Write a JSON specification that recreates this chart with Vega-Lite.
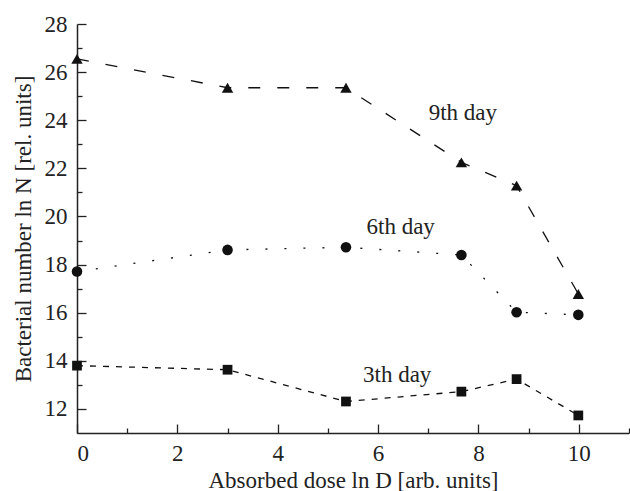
{
  "$schema": "https://vega.github.io/schema/vega-lite/v6.json",
  "width": 552,
  "height": 409,
  "autosize": {"type": "none"},
  "padding": {"left": 77, "top": 24, "right": 1, "bottom": 58},
  "background": "white",
  "config": {
    "view": {"stroke": null},
    "font": "'Liberation Serif', 'Times New Roman', serif",
    "axis": {
      "grid": false,
      "domainColor": "#222",
      "domainWidth": 1.5,
      "tickColor": "#222",
      "tickWidth": 1.3,
      "labelColor": "#222",
      "titleColor": "#222",
      "labelFont": "'Liberation Serif', 'Times New Roman', serif",
      "titleFont": "'Liberation Serif', 'Times New Roman', serif",
      "labelFontSize": 23,
      "titleFontSize": 23,
      "titleFontWeight": "normal"
    }
  },
  "datasets": {
    "pts": [
      {"day": "9th day", "dose": 0, "n": 26.55},
      {"day": "9th day", "dose": 3.0, "n": 25.35},
      {"day": "9th day", "dose": 5.36, "n": 25.35},
      {"day": "9th day", "dose": 7.66, "n": 22.25},
      {"day": "9th day", "dose": 8.76, "n": 21.28},
      {"day": "9th day", "dose": 9.99, "n": 16.78},
      {"day": "6th day", "dose": 0, "n": 17.71},
      {"day": "6th day", "dose": 3.0, "n": 18.61},
      {"day": "6th day", "dose": 5.36, "n": 18.72},
      {"day": "6th day", "dose": 7.66, "n": 18.4},
      {"day": "6th day", "dose": 8.76, "n": 16.02},
      {"day": "6th day", "dose": 9.99, "n": 15.91},
      {"day": "3th day", "dose": 0, "n": 13.8},
      {"day": "3th day", "dose": 3.0, "n": 13.63},
      {"day": "3th day", "dose": 5.36, "n": 12.31},
      {"day": "3th day", "dose": 7.66, "n": 12.72},
      {"day": "3th day", "dose": 8.76, "n": 13.24},
      {"day": "3th day", "dose": 9.99, "n": 11.73}
    ],
    "labels": [
      {"text": "9th day", "dose": 7.69, "n": 24.29},
      {"text": "6th day", "dose": 6.45, "n": 19.58},
      {"text": "3th day", "dose": 6.38, "n": 13.39}
    ]
  },
  "layer": [
    {
      "data": {"name": "pts"},
      "mark": {"type": "line", "color": "#111", "strokeWidth": 1.3},
      "encoding": {
        "x": {"field": "dose", "type": "quantitative",
              "scale": {"domain": [0, 11], "nice": false, "zero": false},
              "axis": {"values": [0, 2, 4, 6, 8, 10], "tickSize": -9, "labelPadding": 18,
                       "title": "Absorbed dose ln D [arb. units]", "titlePadding": 4, "orient": "bottom"}},
        "y": {"field": "n", "type": "quantitative",
              "scale": {"domain": [11, 28], "nice": false, "zero": false},
              "axis": {"values": [12, 14, 16, 18, 20, 22, 24, 26, 28], "tickSize": -9, "labelPadding": 19,
                       "title": "Bacterial number ln N [rel. units]", "titlePadding": 9, "orient": "left"}},
        "strokeDash": {"field": "day", "type": "nominal",
                       "scale": {"domain": ["9th day", "6th day", "3th day"], "range": [[12, 17], [2, 17], [6, 7]]},
                       "legend": null},
        "detail": {"field": "day"}
      }
    },
    {
      "data": {"name": "pts"},
      "mark": {"type": "point", "filled": true, "color": "#111", "opacity": 1},
      "encoding": {
        "x": {"field": "dose", "type": "quantitative", "scale": {"domain": [0, 11], "nice": false, "zero": false}, "axis": null},
        "y": {"field": "n", "type": "quantitative", "scale": {"domain": [11, 28], "nice": false, "zero": false}, "axis": null},
        "shape": {"field": "day", "type": "nominal",
                  "scale": {"domain": ["9th day", "6th day", "3th day"], "range": ["triangle-up", "circle", "square"]},
                  "legend": null},
        "size": {"field": "day", "type": "nominal",
                 "scale": {"domain": ["9th day", "6th day", "3th day"], "range": [130, 95, 85]},
                 "legend": null}
      }
    },
    {
      "data": {"name": "labels"},
      "mark": {"type": "text", "font": "'Liberation Serif', 'Times New Roman', serif", "fontSize": 23, "color": "#222"},
      "encoding": {
        "x": {"field": "dose", "type": "quantitative", "scale": {"domain": [0, 11], "nice": false, "zero": false}, "axis": null},
        "y": {"field": "n", "type": "quantitative", "scale": {"domain": [11, 28], "nice": false, "zero": false}, "axis": null},
        "text": {"field": "text"}
      }
    },
    {
      "data": {"name": "pts"},
      "mark": {"type": "point", "opacity": 0},
      "encoding": {
        "x": {"field": "dose", "type": "quantitative", "scale": {"domain": [0, 11], "nice": false, "zero": false},
              "axis": {"values": [1, 3, 5, 7, 9, 11], "tickSize": -5, "labels": false, "domain": false, "title": null, "orient": "bottom"}},
        "y": {"field": "n", "type": "quantitative", "scale": {"domain": [11, 28], "nice": false, "zero": false},
              "axis": {"values": [13, 15, 17, 19, 21, 23, 25, 27], "tickSize": -5, "labels": false, "domain": false, "title": null, "orient": "left"}}
      }
    }
  ],
  "resolve": {"axis": {"x": "independent", "y": "independent"}}
}
